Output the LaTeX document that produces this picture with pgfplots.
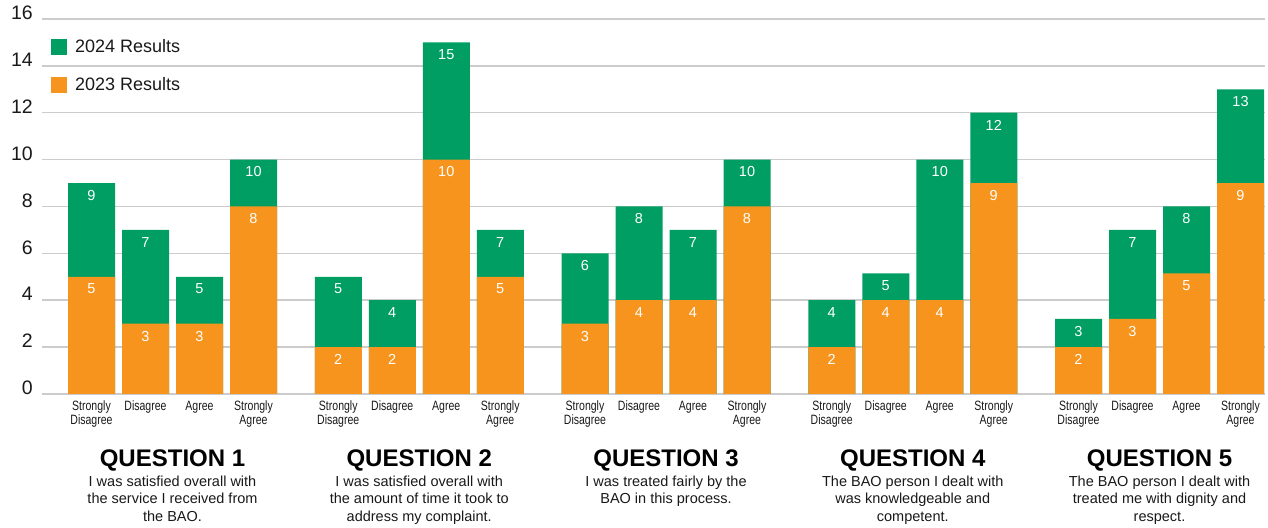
\documentclass[border=0pt]{standalone}
\usepackage{fontspec}
\setmainfont{Liberation Sans}
\newfontfamily\condfont[FakeStretch=0.78]{Liberation Sans}
\usepackage{pgfplots}
\usepackage{pgfplotstable}
\pgfplotsset{compat=1.18}
\definecolor{g24}{RGB}{0,158,98}
\definecolor{o23}{RGB}{247,148,30}
\definecolor{gridgray}{RGB}{204,204,204}
\definecolor{txt}{RGB}{25,25,25}

\pgfplotstableread{
x y lab
91.5 9 9
145.5 7 7
199.5 5 5
253.5 10 10
338.25 5 5
392.25 4 4
446.25 15 15
500.25 7 7
585 6 6
639 8 8
693 7 7
747 10 10
831.75 4 4
885.75 5.15 5
939.75 10 10
993.75 12 12
1078.5 3.2 3
1132.5 7 7
1186.5 8 8
1240.5 13 13
}\greendata

\pgfplotstableread{
x y lab
91.5 5 5
145.5 3 3
199.5 3 3
253.5 8 8
338.25 2 2
392.25 2 2
446.25 10 10
500.25 5 5
585 3 3
639 4 4
693 4 4
747 8 8
831.75 2 2
885.75 4 4
939.75 4 4
993.75 9 9
1078.5 2 2
1132.5 3.2 3
1186.5 5.15 5
1240.5 9 9
}\orangedata

\begin{document}
\begin{tikzpicture}
\useasboundingbox (0,0) rectangle (1268pt,527pt);
\begin{axis}[
  at={(42pt,133pt)}, anchor=south west,
  scale only axis, width=1223pt, height=375pt,
  xmin=42, xmax=1265, ymin=0, ymax=16,
  enlargelimits=false, clip=false,
  ybar, bar width=47, bar shift=0pt,
  axis line style={draw=none},
  major tick length=0pt,
  ymajorgrids, grid style={line width=1.5pt, color=gridgray},
  ytick={0,2,...,16},
  /pgf/number format/assume math mode=true,
  yticklabel style={font=\fontsize{19.5}{20}\selectfont, text=txt, inner sep=0pt, anchor=east, xshift=-9pt, yshift=6pt},
  xtick={91.5,145.5,199.5,253.5,338.25,392.25,446.25,500.25,585,639,693,747,831.75,885.75,939.75,993.75,1078.5,1132.5,1186.5,1240.5},
  xticklabels={{Strongly\\Disagree},Disagree,Agree,{Strongly\\Agree},{Strongly\\Disagree},Disagree,Agree,{Strongly\\Agree},{Strongly\\Disagree},Disagree,Agree,{Strongly\\Agree},{Strongly\\Disagree},Disagree,Agree,{Strongly\\Agree},{Strongly\\Disagree},Disagree,Agree,{Strongly\\Agree}},
  xticklabel style={font=\condfont\fontsize{13.5}{12}\selectfont, text=txt, align=center, inner sep=0pt, anchor=north, yshift=-7pt},
  point meta=explicit symbolic,
  nodes near coords,
  every node near coord/.append style={font=\fontsize{14.5}{15}\selectfont, text=white, anchor=north, inner sep=0pt, yshift=-7pt},
  legend style={draw=none, fill=none, inner sep=0pt, at={(0,1)}, anchor=north west, xshift=9pt, yshift=-20pt, font=\fontsize{18}{18}\selectfont, text=txt, nodes={inner sep=0pt}, row sep=21.5pt, column sep=8pt},
  legend cell align=left,
  legend image code/.code={\fill[#1] (0pt,-8pt) rectangle (16pt,8pt);},
]
\addplot[fill=g24, draw=none] table[x=x, y=y, meta=lab] {\greendata};
\addlegendentry{2024 Results}
\addplot[fill=o23, draw=none] table[x=x, y=y, meta=lab] {\orangedata};
\addlegendentry{2023 Results}
\end{axis}
\foreach \cx/\q/\d in {172.5/1/{I was satisfied overall with\\the service I received from\\the BAO.},
                       419.25/2/{I was satisfied overall with\\the amount of time it took to\\address my complaint.},
                       666/3/{I was treated fairly by the\\BAO in this process.},
                       912.75/4/{The BAO person I dealt with\\was knowledgeable and\\competent.},
                       1159.5/5/{The BAO person I dealt with\\treated me with dignity and\\respect.}}{
  \node[anchor=base, inner sep=0pt, font=\fontsize{24}{24}\selectfont\bfseries] at (\cx pt,60pt) {QUESTION \q};
  \node[anchor=north, inner sep=0pt, align=center, text=txt, font=\fontsize{14.5}{17.5}\selectfont] at (\cx pt,51.5pt) {\d};
}
\end{tikzpicture}
\end{document}
